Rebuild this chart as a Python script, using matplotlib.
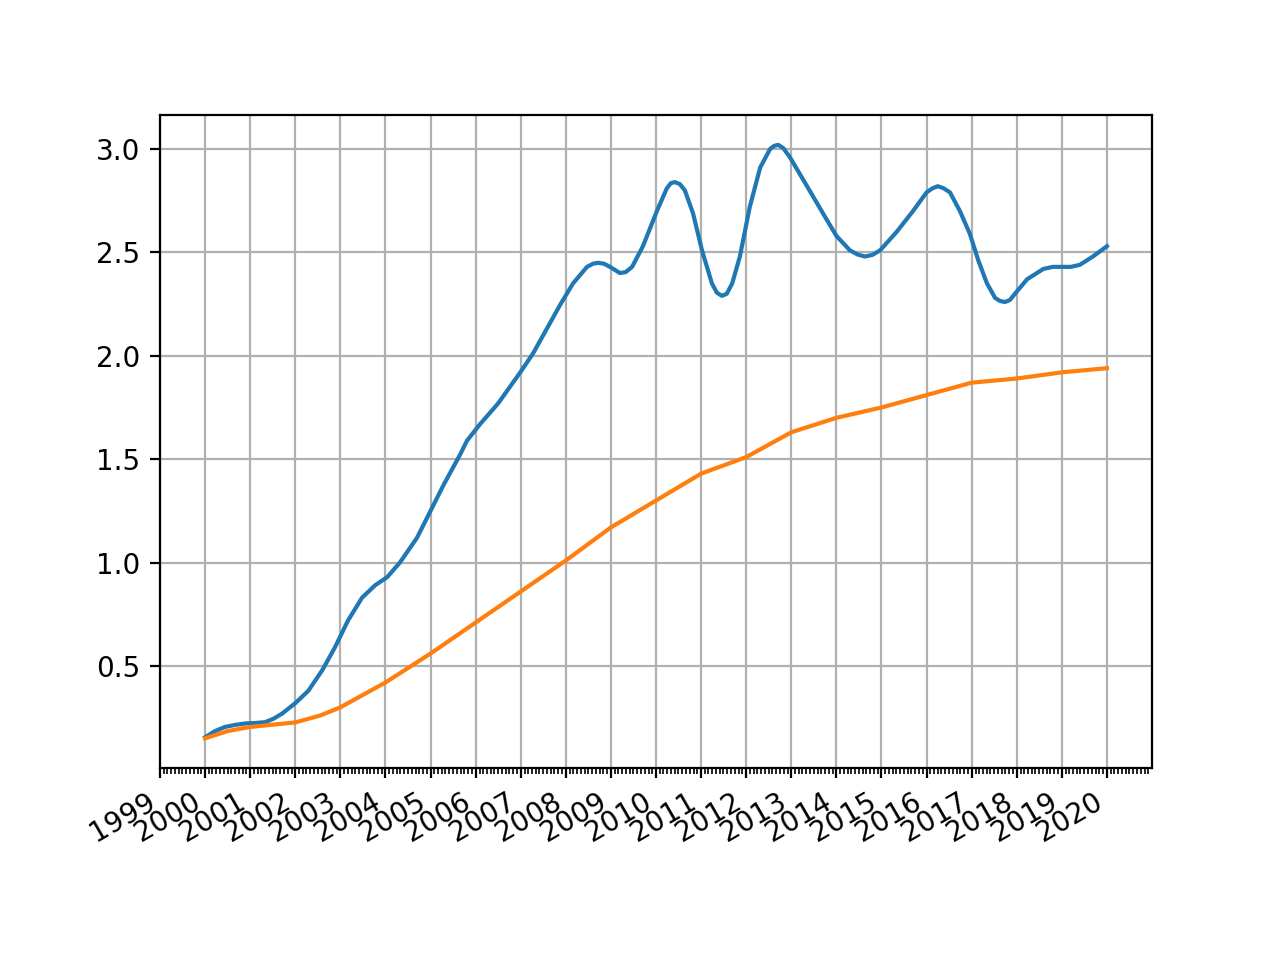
import numpy as np
import pandas as pd
import matplotlib
matplotlib.use("Agg")
import matplotlib.pyplot as plt
import matplotlib.dates as mdates

# years after 2000-01-01
blue_t = [0.0, 0.22, 0.44, 0.67, 0.89, 1.1, 1.33, 1.52, 1.71, 2.0, 2.29, 2.6, 2.88, 3.17,
          3.48, 3.77, 4.04, 4.32, 4.7, 5.0, 5.3, 5.65, 5.81, 6.1, 6.5, 6.98, 7.27, 7.5,
          7.87, 8.16, 8.47, 8.6, 8.71, 8.85, 8.98, 9.2, 9.33, 9.47, 9.71, 10.02, 10.24,
          10.33, 10.42, 10.53, 10.64, 10.82, 11.02, 11.24, 11.35, 11.46, 11.57, 11.69,
          11.86, 12.08, 12.31, 12.53, 12.62, 12.71, 12.82, 12.97, 13.35, 13.7, 14.0,
          14.3, 14.47, 14.63, 14.8, 14.97, 15.34, 15.7, 16.0, 16.13, 16.25, 16.38, 16.52,
          16.74, 16.96, 17.15, 17.34, 17.52, 17.63, 17.74, 17.85, 17.96, 18.23, 18.59,
          18.8, 19.03, 19.2, 19.4, 19.69, 20.0]
blue_v = [0.155, 0.185, 0.205, 0.215, 0.222, 0.224, 0.228, 0.245, 0.27, 0.32, 0.38, 0.48, 0.59, 0.72,
          0.83, 0.89, 0.93, 1.00, 1.12, 1.25, 1.38, 1.52, 1.59, 1.67, 1.77, 1.917, 2.01, 2.10,
          2.245, 2.35, 2.43, 2.445, 2.45, 2.445, 2.43, 2.40, 2.405, 2.43, 2.53, 2.70, 2.81,
          2.835, 2.84, 2.83, 2.80, 2.69, 2.51, 2.35, 2.305, 2.29, 2.30, 2.35,
          2.48, 2.72, 2.91, 3.00, 3.015, 3.02, 3.005, 2.96, 2.82, 2.69, 2.58,
          2.51, 2.49, 2.48, 2.488, 2.51, 2.60, 2.70, 2.79, 2.81, 2.82, 2.81, 2.79,
          2.70, 2.59, 2.46, 2.35, 2.28, 2.265, 2.26, 2.27, 2.30, 2.37, 2.42,
          2.43, 2.43, 2.43, 2.44, 2.48, 2.53]

orange_t = [0.0, 0.5, 1.0, 2.0, 2.55, 3.0, 4.0, 5.0, 6.0, 7.0, 8.0, 9.0, 10.0,
            11.0, 12.0, 13.0, 14.0, 15.0, 16.0, 17.0, 18.0, 19.0, 20.0]
orange_v = [0.15, 0.185, 0.205, 0.227, 0.26, 0.30, 0.42, 0.56, 0.71, 0.86, 1.01, 1.17, 1.30,
            1.43, 1.51, 1.63, 1.70, 1.75, 1.81, 1.87, 1.89, 1.92, 1.94]

start = pd.Timestamp("2000-01-01")
def to_dates(t):
    return start + pd.to_timedelta(np.array(t) * 365.25, unit="D")

fig, ax = plt.subplots(figsize=(6.4, 4.8), dpi=200)
ax.plot(to_dates(blue_t), blue_v)
ax.plot(to_dates(orange_t), orange_v)

ax.xaxis.set_major_locator(mdates.YearLocator())
ax.xaxis.set_major_formatter(mdates.DateFormatter("%Y"))
ax.xaxis.set_minor_locator(mdates.MonthLocator())
ax.grid(True)
fig.autofmt_xdate()

plt.savefig("out.png", dpi=200)
